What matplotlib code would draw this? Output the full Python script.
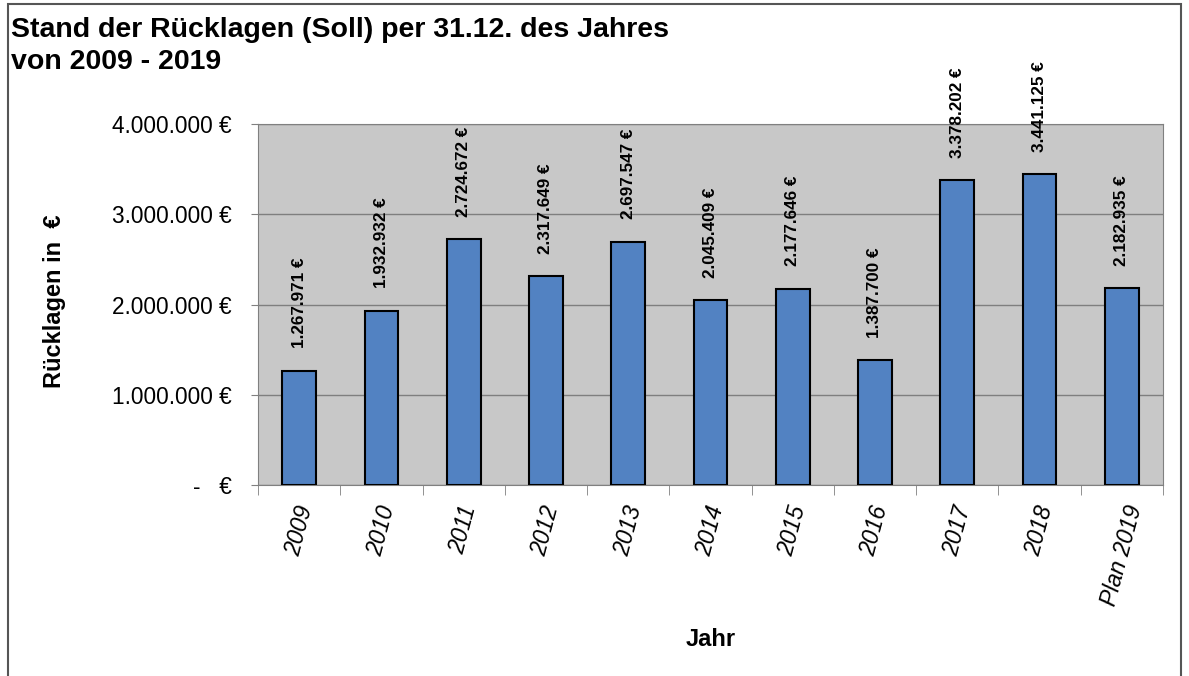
import matplotlib.pyplot as plt
import matplotlib.patches as mpatches
import numpy as np

plt.rcParams['font.family'] = ['Liberation Sans', 'DejaVu Sans']

jahre = ["2009", "2010", "2011", "2012", "2013", "2014", "2015", "2016", "2017", "2018", "Plan 2019"]
werte = [1267971, 1932932, 2724672, 2317649, 2697547, 2045409, 2177646, 1387700, 3378202, 3441125, 2182935]
y_ticks = [0, 1000000, 2000000, 3000000, 4000000]
y_labels = ["-   €", "1.000.000 €", "2.000.000 €", "3.000.000 €", "4.000.000 €"]


def euro(v):
    return "{:,}".format(v).replace(",", ".") + " €"


fig = plt.figure(figsize=(11.89, 6.76), dpi=100)
ax = fig.add_axes([0.217, 0.2825, 0.761, 0.534])

x = np.arange(len(jahre))
ax.bar(x, werte, width=0.41, color="#5282C2", edgecolor="black", linewidth=1.5, zorder=3)

for xi, v in zip(x, werte):
    ax.annotate(euro(v), (xi, v), xytext=(0, 16), textcoords="offset points",
                rotation=90, ha="center", va="bottom", fontsize=12.3, fontweight="bold",
                annotation_clip=False)

ax.set_facecolor("#C8C8C8")
ax.set_xlim(-0.5, len(jahre) - 0.5)
ax.set_ylim(0, 4000000)
ax.set_yticks(y_ticks)
ax.set_yticklabels(y_labels, fontsize=16.3)
ax.yaxis.grid(True, color="#7F7F7F", linewidth=1, zorder=1)

ax.set_xticks(x)
ax.set_xticklabels(jahre, rotation=75, fontsize=16.5, style="italic", ha="center", va="top")
ax.set_xticks(np.arange(len(jahre) + 1) - 0.5, minor=True)
ax.tick_params(axis="x", which="major", length=0, pad=13)
ax.tick_params(axis="x", which="minor", length=7, color="#808080")
ax.tick_params(axis="y", length=5, color="#808080", pad=14)

for s in ["top", "right", "left", "bottom"]:
    ax.spines[s].set_color("#808080")

ax.set_ylabel("Rücklagen in  €", fontsize=17, fontweight="bold")
ax.yaxis.set_label_coords(-0.212, 0.51)
ax.set_xlabel("Jahr", fontsize=17, fontweight="bold", labelpad=14)

fig.text(0.009, 0.975, "Stand der Rücklagen (Soll) per 31.12. des Jahres\nvon 2009 - 2019",
         fontsize=20.5, fontweight="bold", ha="left", va="top", linespacing=1.3)

fig.patches.append(mpatches.Rectangle((0.007, -0.05), 0.986, 1.044, transform=fig.transFigure,
                                      fill=False, edgecolor="#555555", linewidth=1.5))

fig.savefig("out.png", dpi=100)
